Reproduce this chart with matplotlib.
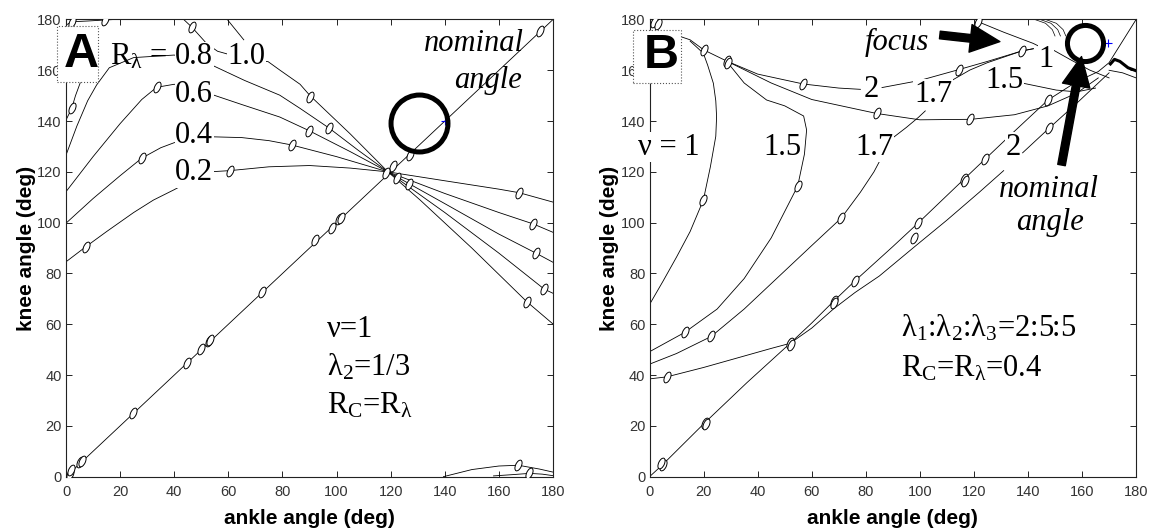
import matplotlib
matplotlib.use("Agg")
import matplotlib.pyplot as plt
from matplotlib.path import Path
from matplotlib.transforms import Affine2D
from matplotlib.patches import Rectangle

plt.rcParams['mathtext.fontset'] = 'custom'
plt.rcParams['mathtext.rm'] = 'Liberation Serif'
plt.rcParams['mathtext.it'] = 'Liberation Serif:italic'

# ---------------- panel A data (deg) ----------------
a_diag_x = [0, 180]
a_diag_y = [0, 180]
a_r02_x = [0, 7.4, 15, 25, 32.3, 40, 47, 54.4, 60.6, 75, 90, 105, 119, 140, 160, 167.5, 180]
a_r02_y = [84.6, 90.6, 96.5, 104, 108.9, 113, 117, 120.1, 120.5, 122, 122.5, 121.5, 120, 116.5, 113.2, 111.8, 108.1]
a_r04_x = [0, 10, 20, 28, 35, 40, 47, 54.5, 65, 75, 83.4, 100, 119, 140, 160, 172.7, 180]
a_r04_y = [99.8, 109.5, 118.5, 125.4, 129.5, 131.5, 133, 133.8, 133.5, 132.3, 130.6, 126, 120, 111.5, 104, 99.5, 96.2]
a_r06_x = [0, 10, 20, 28, 33.5, 40, 47, 54.4, 65, 79, 89.9, 105, 119, 140, 160, 173.7, 180]
a_r06_y = [112.2, 126, 139, 148.5, 153.3, 154.5, 153, 150.3, 146.5, 141.6, 136.2, 128, 120, 107.5, 95.5, 88, 84.4]
a_r08_x = [0, 4, 8, 11.3, 16, 25, 40, 54, 66, 79, 86.5, 97.3, 108, 119, 140, 160, 176.8, 180]
a_r08_y = [126.6, 138, 148, 154.2, 161, 165, 166, 162, 156, 150.2, 145, 137.2, 128.5, 120, 104, 88, 73.8, 72.2]
a_r10_x = [43.5, 46.5, 52, 56, 66, 74.7, 79, 86.5, 90.2, 105, 119, 130.9, 150, 170.3, 180]
a_r10_y = [180, 177, 170.5, 167.5, 164.5, 163.4, 160.1, 154.5, 150, 135, 120, 108.9, 90, 68.9, 60.1]
a_top_x = [59.6, 65.7]
a_top_y = [180, 172]
a_tl1_x = [0, 2.1, 8, 14.4, 18]
a_tl1_y = [177.8, 179.1, 179.4, 179.8, 180]
a_tl2_x = [0, 2.1, 3.5, 5.2, 6.5]
a_tl2_y = [140.4, 145, 150, 154.9, 158]
a_br1_x = [139.5, 150, 160, 167.2, 175, 180]
a_br1_y = [0, 2.8, 4.2, 4.5, 3, 1.8]
a_br2_x = [158, 165, 171.3, 176, 180]
a_br2_y = [0.3, 0.8, 1.3, 1, 0.4]
a_mk_x = [2.1, 14.4, 46.5, 2.1, 7.4, 28, 33.5, 60.6, 83.4, 89.9, 90.2, 97.3, 167.5, 172.7,
          173.7, 176.8, 170.3, 167.2, 171.3, 1.5, 2, 5.2, 6, 24.6, 44.6, 49.8, 53, 53.3,
          72.6, 92, 98.2, 101, 101.5, 121, 118.3, 122.4, 126.8, 127, 175]
a_mk_y = [179.1, 179.8, 177, 145, 90.6, 125.4, 153.3, 120.5, 130.6, 136.2, 149.6, 137.2, 111.8, 99.5,
          88, 73.8, 68.9, 4.5, 1.3, 1, 2.5, 5.9, 6.2, 25, 44.6, 50.3, 53.5, 54,
          72.6, 93.2, 97.8, 101.5, 102, 122.3, 119.4, 117.5, 115.2, 126.6, 175.5]
a_nominal = (140, 140)
a_circle = (130.5, 139.3)

# ---------------- panel B data (deg) ----------------
b_up_x = [0, 4.8, 20.5, 36, 52, 60, 68.2, 76.1, 90, 99.3, 116.3, 124.1, 135, 147.4, 158, 166, 170, 180]
b_up_y = [0, 4.7, 21.3, 37, 52.5, 60.5, 69.2, 77.2, 90.6, 99.8, 117.1, 125, 136, 148.3, 155.5, 159.5, 163, 180]
b_n2_x = [0, 6.4, 20, 35, 45, 52, 60, 68, 76, 85, 98, 110, 122, 131]
b_n2_y = [38.5, 39.3, 43, 47.5, 50.5, 52.5, 58.5, 66, 72.5, 79, 90.5, 101, 112, 120.5]
b_n2r_x = [138, 147.8, 158, 166, 170]
b_n2r_y = [127.5, 137.2, 147, 155, 159]
b_n17_x = [0, 10, 22.8, 35, 50, 60, 70.9, 78, 83, 86]
b_n17_y = [44.3, 48.5, 55.2, 66, 81, 91, 101.8, 112, 120, 126]
b_n17m_x = [89.5, 95, 99.5, 102]
b_n17m_y = [133, 137.5, 141.5, 144]
b_n17u_x = [111, 118.5, 125, 137.7, 142]
b_n17u_y = [155.5, 160.1, 163, 167.6, 168.5]
b_n15_x = [0, 13, 25, 35, 45, 54.8, 57.3, 58.1, 57, 50, 43.3, 35, 28.6]
b_n15_y = [49.2, 56.8, 66, 78, 94, 114.4, 127, 136.5, 142, 146, 148.3, 155, 163.4]
b_n1_x = [0, 5, 10, 15, 19.9, 22.5, 24.5, 24.8, 24.5, 23.6, 21.5, 19.9, 15]
b_n1_y = [67.8, 77, 86.5, 96.5, 108.9, 122, 134, 141.7, 148, 154.9, 162, 166.7, 171.5]
b_bundle_x = [0, 8, 15, 20.1, 28.6]
b_bundle_y = [175.5, 174.5, 172, 168, 163.6]
b_band1_x = [28.6, 40, 56.9, 70, 78]
b_band1_y = [163.6, 158.5, 154.6, 153, 152.5]
b_band1r_x = [86, 100, 114.5, 125, 137.7, 142]
b_band1r_y = [153.2, 156, 160.3, 163.5, 167.6, 168.5]
b_band2_x = [28.6, 45, 60, 84, 100, 119, 135, 147.4, 158, 166]
b_band2_y = [163.6, 155, 148.5, 143, 140.5, 140.7, 142.5, 146, 151, 157]
b_n15u_x = [138.2, 150.5, 158, 165]
b_n15u_y = [154.9, 152.2, 151.5, 153]
b_n1u_x = [121.6, 131, 141.9, 144]
b_n1u_y = [179.1, 175, 170.6, 169.5]
b_n1r_x = [149.3, 156, 162.8, 170]
b_n1r_y = [168, 164, 160.1, 157]
b_bump_x = [170.5, 172, 174, 177, 180]
b_bump_y = [162.5, 164.3, 163.5, 161, 159.8]
b_tail_x = [170, 175, 180]
b_tail_y = [160, 159, 157]
b_arc_x = [[142.5, 146.5, 149, 150], [144.5, 148.5, 151, 152], [146.5, 150.5, 153, 154]]
b_arc_y = [[180, 178.5, 176, 173.5], [180, 178.5, 176, 173.5], [180, 178.5, 176, 173.5]]
b_mk_x = [4.8, 4.2, 20.5, 20.8, 51.8, 52.2, 68.2, 68.4, 76.1, 99.3, 97.9, 116.3, 116.6, 124.1,
          147.4, 147.8, 6.4, 22.8, 13, 70.9, 54.8, 19.9, 20.1, 28.6, 28.9, 56.9, 84, 118.5,
          114.5, 137.7, 121.6, 1.5, 3.2]
b_mk_y = [4.7, 5.3, 21.3, 20.8, 52.5, 51.8, 69.2, 68.4, 77.2, 99.8, 93.8, 117.1, 116.4, 125,
          148.3, 137.2, 39.3, 55.2, 56.8, 101.8, 114.4, 108.9, 168, 163.6, 163, 154.6, 143, 140.7,
          160.3, 167.6, 179.1, 179, 178.4]
b_nominal = (169.6, 170.6)
b_circle = (161, 170.6)

ticks = list(range(0, 181, 20))

ell = Path.unit_circle().transformed(Affine2D().scale(0.5, 1.0).rotate_deg(-25))
serif = 'Liberation Serif'
lkw = dict(color='black', lw=0.6)


def setup(ax):
    ax.set_xlim(0, 180)
    ax.set_ylim(0, 180)
    ax.set_xticks(ticks)
    ax.set_yticks(ticks)
    ax.tick_params(direction='in', length=4, width=0.6, top=True, right=True,
                   labelsize=10.5, labelcolor='#333333')
    ax.tick_params(axis='x', pad=6)
    ax.tick_params(axis='y', pad=3)
    for lab in ax.get_xticklabels() + ax.get_yticklabels():
        lab.set_family('Liberation Sans')
    for s in ax.spines.values():
        s.set_linewidth(0.8)
        s.set_color('#222222')
    ax.set_xlabel('ankle angle (deg)', fontsize=15, fontweight='bold',
                  family='Liberation Sans', labelpad=7)
    ax.set_ylabel('knee angle (deg)', fontsize=15, fontweight='bold',
                  family='Liberation Sans', labelpad=1)


def lab(ax, x, y, s, size=22, ha='center', style='normal', bg=True):
    kw = dict(fontsize=size, family=serif, ha=ha, va='baseline', style=style, zorder=4)
    if bg:
        kw['bbox'] = dict(boxstyle='square,pad=0.02', fc='white', ec='none')
    ax.text(x, y, s, **kw)


def panel_box(ax, x0, y0, w, h, letter, cx, cy):
    ax.add_patch(Rectangle((x0, y0), w, h, fc='white', ec='#555555', ls=':', lw=0.8,
                           clip_on=False, zorder=6))
    ax.text(cx, cy, letter, fontsize=35, fontweight='bold', family='Liberation Sans',
            ha='center', va='center', zorder=7)


fig = plt.figure(figsize=(11.56, 5.31), dpi=100)
axA = fig.add_axes([0.0571, 0.1023, 0.4213, 0.861])
axB = fig.add_axes([0.5619, 0.1023, 0.4209, 0.861])

# ---------------- panel A ----------------
ax = axA
setup(ax)
for xs, ys in [(a_diag_x, a_diag_y), (a_r02_x, a_r02_y), (a_r04_x, a_r04_y), (a_r06_x, a_r06_y),
               (a_r08_x, a_r08_y), (a_r10_x, a_r10_y), (a_top_x, a_top_y), (a_tl1_x, a_tl1_y),
               (a_tl2_x, a_tl2_y), (a_br1_x, a_br1_y), (a_br2_x, a_br2_y)]:
    ax.plot(xs, ys, **lkw)
ax.plot(a_mk_x, a_mk_y, ls='none', marker=ell, ms=8, mfc='white', mec='black', mew=0.7, zorder=3)
ax.plot(*a_nominal, '+', color='blue', ms=6, mew=0.8, zorder=5)
ax.plot(*a_circle, 'o', ms=41, mfc='none', mec='black', mew=3.6, zorder=5)

ax.text(37.2, 162.4, r'R$_{\mathrm{\lambda}}$ =', fontsize=22, family=serif, ha='right',
        va='baseline', zorder=4)
lab(ax, 47.4, 162.4, '0.8')
lab(ax, 66.8, 162.4, '1.0')
lab(ax, 47.4, 147.6, '0.6')
lab(ax, 47.4, 131.3, '0.4')
lab(ax, 47.4, 116.8, '0.2')
lab(ax, 150.7, 167.6, 'nominal', style='italic', bg=False)
lab(ax, 156, 152.9, 'angle', style='italic', bg=False)
lab(ax, 96.4, 55.1, 'ν=1', ha='left', bg=False)
lab(ax, 96.4, 40.0, 'λ$_2$=1/3', ha='left', bg=False)
lab(ax, 96.4, 25.0, r'R$_\mathrm{C}$=R$_{\mathrm{\lambda}}$', ha='left', bg=False)
panel_box(ax, -3.5, 155.5, 15.5, 22, 'A', 5.5, 166.3)

# ---------------- panel B ----------------
ax = axB
setup(ax)
for xs, ys in [(b_up_x, b_up_y), (b_n2_x, b_n2_y), (b_n2r_x, b_n2r_y), (b_n17_x, b_n17_y),
               (b_n17m_x, b_n17m_y), (b_n17u_x, b_n17u_y), (b_n15_x, b_n15_y), (b_n1_x, b_n1_y),
               (b_bundle_x, b_bundle_y), (b_band1_x, b_band1_y), (b_band1r_x, b_band1r_y),
               (b_band2_x, b_band2_y), (b_n15u_x, b_n15u_y), (b_n1u_x, b_n1u_y),
               (b_n1r_x, b_n1r_y), (b_tail_x, b_tail_y)]:
    ax.plot(xs, ys, **lkw)
for xs, ys in zip(b_arc_x, b_arc_y):
    ax.plot(xs, ys, color='black', lw=0.5)
ax.plot(b_bump_x, b_bump_y, color='black', lw=2.2)
ax.plot(b_mk_x, b_mk_y, ls='none', marker=ell, ms=8, mfc='white', mec='black', mew=0.7, zorder=3)
ax.plot(*b_nominal, '+', color='blue', ms=6, mew=0.8, zorder=5)
ax.plot(*b_circle, 'o', ms=26, mfc='none', mec='black', mew=3.6, zorder=5)

lab(ax, -4.1, 126.7, 'ν = 1', ha='left')
lab(ax, 49.3, 126.7, '1.5')
lab(ax, 83.2, 126.7, '1.7')
lab(ax, 134.5, 126.7, '2')
lab(ax, 82.1, 149.6, '2')
lab(ax, 104.9, 147.6, '1.7')
lab(ax, 131.4, 152.9, '1.5')
lab(ax, 146.6, 161.4, '1')
lab(ax, 91.3, 168.0, 'focus', style='italic', bg=False)
lab(ax, 147.8, 110.2, 'nominal', style='italic', bg=False)
lab(ax, 148.1, 97.1, 'angle', style='italic', bg=False)
lab(ax, 93.2, 55.1, 'λ$_1$:λ$_2$:λ$_3$=2:5:5', ha='left', bg=False)
lab(ax, 93.2, 39.4, r'R$_\mathrm{C}$=R$_{\mathrm{\lambda}}$=0.4', ha='left', bg=False)
panel_box(ax, -6, 155, 17.5, 21, 'B', 4.5, 166)

arrow = dict(arrowstyle='simple,head_length=0.85,head_width=0.8,tail_width=0.22',
             color='black', shrinkA=0, shrinkB=0, mutation_scale=25)
ax.annotate('', xy=(129.6, 171.3), xytext=(107.4, 173.9), arrowprops=arrow, zorder=6)
ax.annotate('', xy=(159.8, 165.4), xytext=(152.4, 122.7), arrowprops=arrow, zorder=6)

fig.savefig('out.png', dpi=100)
